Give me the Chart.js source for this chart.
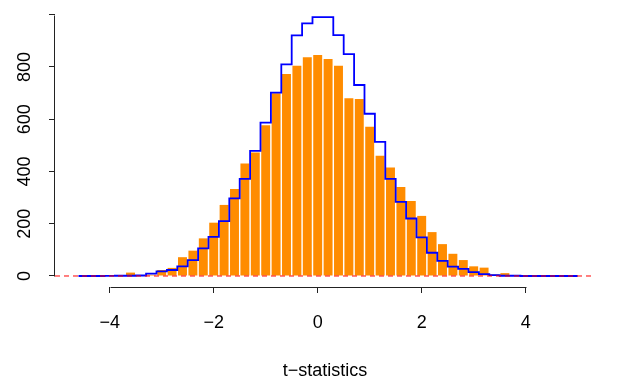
<!DOCTYPE html>
<html><head><meta charset="utf-8">
<script src="https://cdn.jsdelivr.net/npm/chart.js@4/dist/chart.umd.min.js"></script>
<style>html,body{margin:0;padding:0;background:#fff}</style>
</head><body>
<canvas id="c" width="617" height="380"></canvas>
<script>
// ---- data ----
const binCenters = [-4.6,-4.4,-4.2,-4.0,-3.8,-3.6,-3.4,-3.2,-3.0,-2.8,-2.6,-2.4,-2.2,-2.0,-1.8,-1.6,-1.4,-1.2,-1.0,-0.8,-0.6,-0.4,-0.2,0,0.2,0.4,0.6,0.8,1.0,1.2,1.4,1.6,1.8,2.0,2.2,2.4,2.6,2.8,3.0,3.2,3.4,3.6,3.8,4.0,4.2,4.4,4.6,4.8,5.0];
const observedCounts = [0,0,0,0,0,13,3,5,23,31,72,97,144,204,272,333,431,473,577,699,773,805,837,846,830,805,680,677,571,460,415,341,287,230,168,122,85,61,37,32,6,11,0,0,0,0,0,0,0];
const expectedCounts = [0,0,0,0.5,1,1,2,9,18,23,37,61,106,150,210,297,372,479,587,702,810,921,967,991,991,922,849,731,621,513,372,284,220,148,89,58,36,27,15,7,3,1,1,0,0,0,0,0,0];
const xTickValues = [-4,-2,0,2,4];
const xTickLabels = ['\u22124','\u22122','0','2','4'];
const yTickValues = [0,200,400,600,800,1000];
const yTickLabels = ['0','200','400','600','800',''];
const xTitle = 't\u2212statistics';
const xRange = [-5.052, 5.333];
const yRange = [-42.1, 1037.1];
const referenceLevel = 0;

Chart.defaults.font.family = '"Liberation Sans", Arial, Helvetica, sans-serif';
Chart.defaults.color = '#000';

const rAxes = {
  id: 'rAxes',
  afterDraw(chart) {
    const ctx = chart.ctx, xs = chart.scales.x, ys = chart.scales.y;
    ctx.save();
    ctx.strokeStyle = '#222';
    ctx.lineWidth = 1;
    ctx.beginPath();
    const by = Math.round(chart.chartArea.bottom) + 0.5;
    ctx.moveTo(Math.round(xs.getPixelForValue(xTickValues[0])) + 0.5, by);
    ctx.lineTo(Math.round(xs.getPixelForValue(xTickValues[xTickValues.length-1])) + 0.5, by);
    const lx = Math.round(chart.chartArea.left) - 0.5;
    ctx.moveTo(lx, Math.round(ys.getPixelForValue(yTickValues[0])) + 0.5);
    ctx.lineTo(lx, Math.round(ys.getPixelForValue(yTickValues[yTickValues.length-1])) + 0.5);
    ctx.stroke();
    ctx.restore();
  }
};

new Chart(document.getElementById('c'), {
  type: 'bar',
  data: {
    datasets: [
      {
        type: 'line',
        data: [{x: xRange[0], y: referenceLevel}, {x: xRange[1], y: referenceLevel}],
        borderColor: '#FF0000', borderWidth: 1, borderDash: [5, 4],
        pointRadius: 0, fill: false, order: 1
      },
      {
        type: 'line',
        data: binCenters.map((x, i) => ({x, y: expectedCounts[i]})),
        borderColor: '#0000FF', borderWidth: 1.8, stepped: 'middle',
        pointRadius: 0, fill: false, order: 2
      },
      {
        type: 'bar',
        data: binCenters.map((x, i) => ({x, y: observedCounts[i]})),
        backgroundColor: '#FF8C00', borderWidth: 0,
        barPercentage: 0.86, categoryPercentage: 1.0, grouped: false, order: 3
      }
    ]
  },
  options: {
    responsive: false,
    animation: false,
    devicePixelRatio: 1,
    layout: { padding: { left: 0, right: 22, top: 5, bottom: 0 } },
    plugins: { legend: { display: false }, tooltip: { enabled: false } },
    scales: {
      x: {
        type: 'linear', position: 'bottom', bounds: 'data', offset: false,
        min: xRange[0], max: xRange[1],
        border: { display: false },
        grid: { offset: false, drawOnChartArea: false, drawTicks: true, tickLength: 6, color: '#222', lineWidth: 1 },
        ticks: {
          autoSkip: false, maxRotation: 0, padding: 19,
          font: { size: 18 },
          callback: (v, i) => xTickLabels[i]
        },
        afterBuildTicks: s => { s.ticks = xTickValues.map(v => ({value: v})); },
        afterFit: s => { s.height = 93; s.paddingLeft = 0; s.paddingRight = 0; },
        title: { display: true, text: xTitle, font: { size: 18 }, padding: { top: 0, bottom: -2 } }
      },
      y: {
        type: 'linear', position: 'left', bounds: 'data', offset: false,
        min: yRange[0], max: yRange[1],
        border: { display: false },
        grid: { offset: false, drawOnChartArea: false, drawTicks: true, tickLength: 6, color: '#222', lineWidth: 1 },
        ticks: {
          autoSkip: false, minRotation: 90, maxRotation: 90, crossAlign: 'center', padding: 9,
          font: { size: 18 },
          callback: (v, i) => yTickLabels[i]
        },
        afterBuildTicks: s => { s.ticks = yTickValues.map(v => ({value: v})); },
        afterFit: s => { s.width = 55; s.paddingTop = 0; s.paddingBottom = 0; }
      }
    }
  },
  plugins: [rAxes]
});
</script>
</body></html>
